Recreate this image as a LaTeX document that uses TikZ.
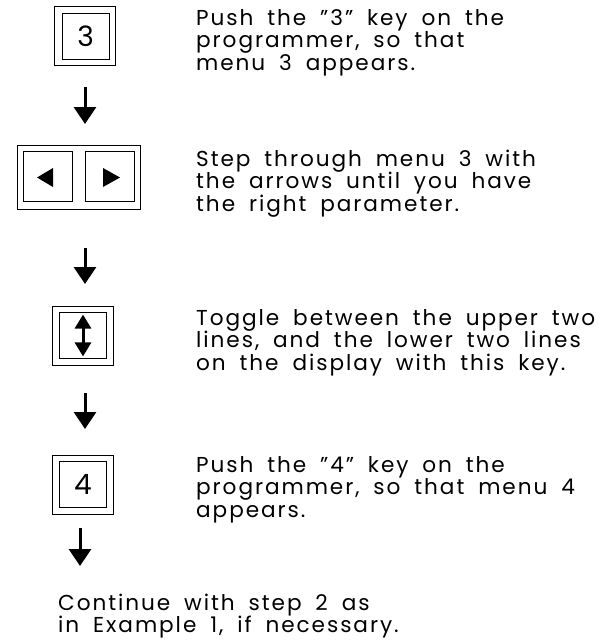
\documentclass[tikz,border=0pt]{standalone}
\usepackage{fontspec}
\setmainfont{Poppins}[LetterSpace=9, WordSpace=1.8]
\usetikzlibrary{arrows.meta}
\tikzset{
  keyframe/.style={draw, line width=0.9pt, inner sep=0pt,
    minimum width=61pt, minimum height=59pt},
  keyface/.style={draw, line width=0.9pt, inner sep=0pt,
    minimum width=47pt, minimum height=46pt,
    font=\fontsize{28}{28}\selectfont},
  plainbox/.style={draw, line width=0.9pt, inner sep=0pt},
  note/.style={anchor=base west, align=left, inner sep=0pt,
    font=\fontsize{21.6}{22.5}\selectfont},
  flow/.style={line width=3pt, -{Triangle[width=22pt,length=17pt]}}
}
\begin{document}
\begin{tikzpicture}[x=1pt,y=1pt]
  \useasboundingbox (0,0) rectangle (602,-641);
  \draw
    (84.5,-35.5) node[keyframe] (key3){}
    (85.5,-36) node[keyface] (key3face){3}
    (78.5,-177) node[plainbox, minimum width=123pt, minimum height=64pt] (keyarrows){}
    (47.5,-176) node[plainbox, minimum width=49pt, minimum height=50pt] (keyleft){}
    (109.5,-176) node[plainbox, minimum width=49pt, minimum height=50pt] (keyright){}
    (83,-335.5) node[keyframe] (keytoggle){}
    (83,-335.5) node[keyface] (keytoggleface){}
    (83,-484.5) node[keyframe] (key4){}
    (83,-484.5) node[keyface] (key4face){4};
  \fill (37,-177.5) -- (53,-168) -- (53,-187) -- cycle;
  \fill (120,-177.5) -- (103,-168) -- (103,-187) -- cycle;
  \draw[line width=3pt, {Triangle[width=16pt,length=14pt]}-{Triangle[width=16pt,length=14pt]}]
    ([yshift=-2.5pt]keytoggleface.north) -- ([yshift=2.5pt]keytoggleface.south);
  \draw
    (196,-70) node[note] (text3){Push the ''3'' key on the\\programmer, so that\\menu 3 appears.}
    (196,-211) node[note] (textarrows){Step through menu 3 with\\the arrows until you have\\the right parameter.}
    (196,-370) node[note] (texttoggle){Toggle between the upper two\\lines, and the lower two lines\\on the display with this key.}
    (196,-517) node[note] (text4){Push the ''4'' key on the\\programmer, so that menu 4\\appears.}
    (58,-632.5) node[note] (textend){Continue with step 2 as\\in Example 1, if necessary.};
  \coordinate (a1) at (85,-87);
  \coordinate (b1) at (85,-124);
  \coordinate (a2) at (85,-248);
  \coordinate (b2) at (85,-284);
  \coordinate (a3) at (85,-393);
  \coordinate (b3) at (85,-429);
  \coordinate (a4) at (80,-528);
  \coordinate (b4) at (80,-566);
  \begin{scope}[flow]
    \draw (a1) to (b1);
    \draw (a2) to (b2);
    \draw (a3) to (b3);
    \draw (a4) to (b4);
  \end{scope}
\end{tikzpicture}
\end{document}
